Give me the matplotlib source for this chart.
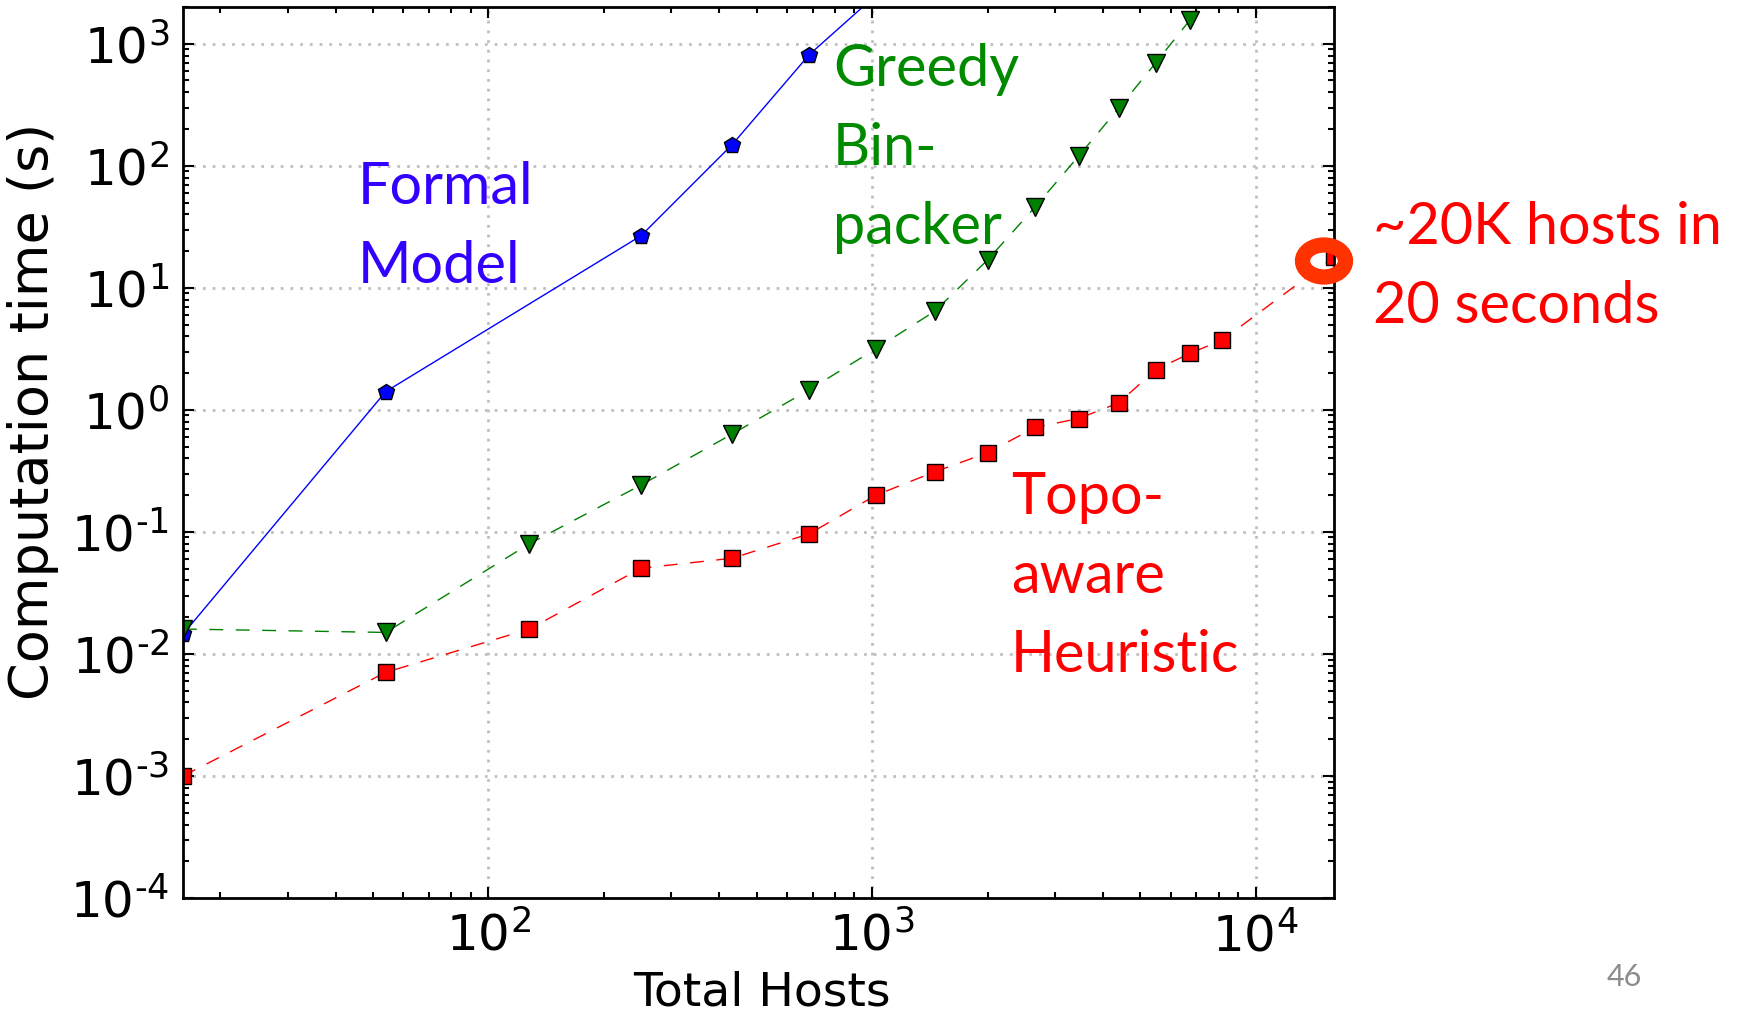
import numpy as np
import matplotlib
matplotlib.use('Agg')
import matplotlib.pyplot as plt
from matplotlib.patches import Ellipse
from matplotlib.ticker import FuncFormatter

matplotlib.rcParams['axes.unicode_minus'] = False

# fat-tree sizes (total hosts)
hosts = [16, 54, 128, 250, 432, 686, 1024, 1458, 2000, 2662, 3456, 4394,
         5488, 6750, 8192, 16000]

# computation time (s)
formal_hosts = [16, 54, 250, 432, 686, 1024]
formal_time = [0.0145, 1.41, 26.7, 149, 813, 2500]

greedy_hosts = [16, 54, 128, 250, 432, 686, 1024, 1458, 2000, 2662, 3456,
                4394, 5488, 6750, 8192]
greedy_time = [0.016, 0.015, 0.080, 0.242, 0.634, 1.46, 3.17, 6.44, 16.9,
               46, 120, 296, 697, 1575, 3600]

topo_time = [0.001, 0.00706, 0.016, 0.0504, 0.0608, 0.0964, 0.200, 0.311,
             0.445, 0.718, 0.849, 1.14, 2.13, 2.91, 3.74, 17.9]

W, H = 1737, 1016
fig = plt.figure(figsize=(W / 100, H / 100), dpi=100)
ax = fig.add_axes([183 / W, 1 - 898 / H, (1334 - 183) / W, (898 - 7) / H])

ax.plot(formal_hosts, formal_time, '-', color='b', lw=1.0, marker='p',
        ms=12, mfc='b', mec='k', mew=1.0)
ax.plot(greedy_hosts, greedy_time, '--', color='g', lw=1.0, dashes=(10, 9),
        marker='v', ms=13, mfc='g', mec='k', mew=1.0)
ax.plot(hosts, topo_time, '--', color='r', lw=1.0, dashes=(10, 9),
        marker='s', ms=12, mfc='r', mec='k', mew=1.0)

ax.set_xscale('log')
ax.set_yscale('log')
ax.set_xlim(16, 16000)
ax.set_ylim(1e-4, 2000)

# old-style labels: exponent drawn with a plain hyphen
def pow10(v, pos):
    e = int(round(np.log10(v)))
    if e < 0:
        return r'$\mathdefault{10^{\text{-}%d}}$' % (-e)
    return r'$\mathdefault{10^{%d}}$' % e

ax.xaxis.set_major_formatter(FuncFormatter(pow10))
ax.yaxis.set_major_formatter(FuncFormatter(pow10))

ax.grid(True, which='major', color='#c0c0c0', linestyle=(0, (1, 2.5)), lw=2)
for s in ax.spines.values():
    s.set_linewidth(2)
ax.tick_params(which='both', direction='in', top=True, right=True,
               labelsize=36, pad=10, width=1.5)
ax.tick_params(which='major', length=8)
ax.tick_params(which='minor', length=4)

ax.set_xlabel('Total Hosts', fontsize=34)
ax.set_ylabel('Computation time (s)', fontsize=39)
ax.xaxis.set_label_coords(0.503, -0.081)
ax.yaxis.set_label_coords(-0.108, 0.546)

def fx(px):
    return px / W

def fy(py):
    return 1 - py / H

# va='baseline' puts the last line's baseline at y
font = ['Lato', 'DejaVu Sans']
fig.text(fx(358), fy(283), 'Formal\nModel', color='#3300ff', fontsize=41.5,
         family=font, va='baseline', ha='left', linespacing=1.6)
fig.text(fx(833), fy(244), 'Greedy\nBin-\npacker', color='#008a00',
         fontsize=41.5, family=font, va='baseline', ha='left', linespacing=1.6)
fig.text(fx(1011), fy(672), 'Topo-\naware\nHeuristic', color='#ff0000',
         fontsize=41.5, family=font, va='baseline', ha='left', linespacing=1.6)
fig.text(fx(1373), fy(323), '~20K hosts in\n20 seconds', color='#ff0000',
         fontsize=41.5, family=font, va='baseline', ha='left', linespacing=1.6)
fig.text(fx(1607), fy(986), '46', color='#8c8c8c', fontsize=22, family=font,
         va='baseline', ha='left')

fig.add_artist(Ellipse((fx(1324), fy(261)), 43 / W, 32 / H,
                       transform=fig.transFigure, fill=False,
                       edgecolor='#ff3300', lw=11))

fig.savefig('out.png', dpi=100)
